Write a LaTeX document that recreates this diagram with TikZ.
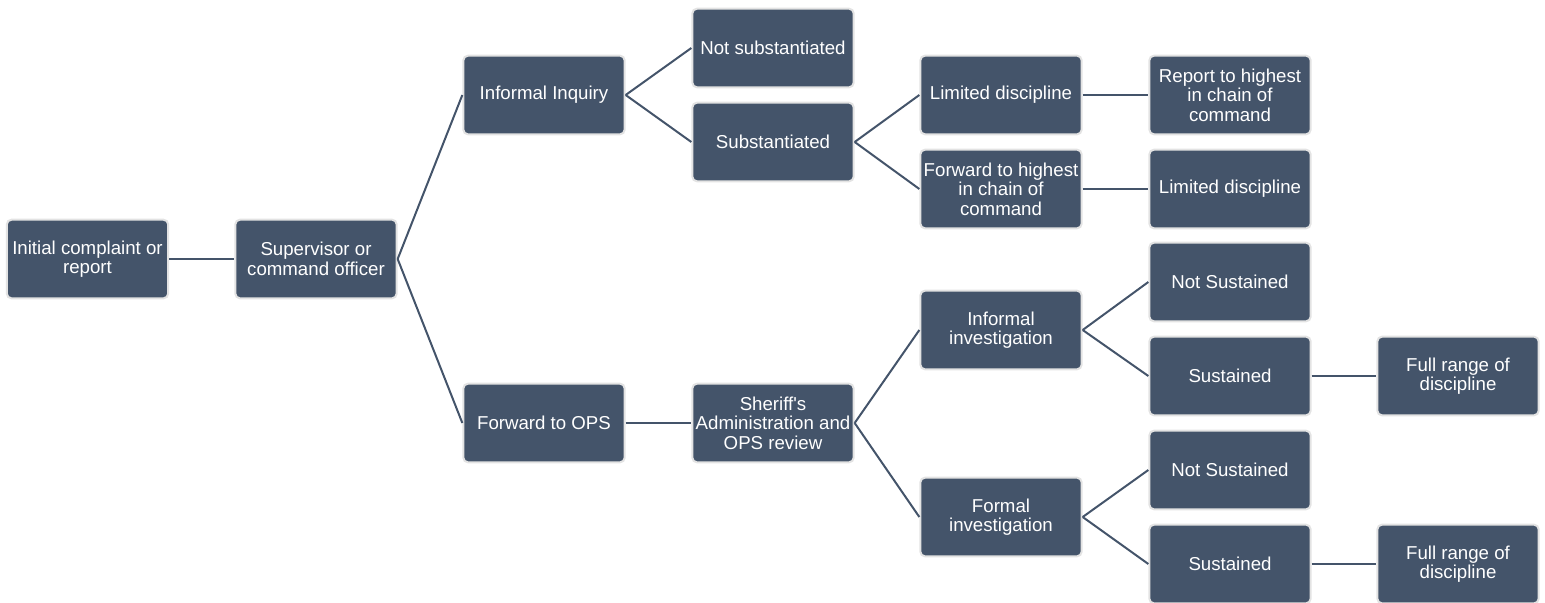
\documentclass[tikz,border=0pt]{standalone}
\usepackage{fontspec}
\setmainfont{Liberation Sans}
\definecolor{slate}{HTML}{44546A}
\definecolor{rim}{HTML}{E3E3E3}

\begin{document}
\begin{tikzpicture}[
	x=0.75pt, y=-0.75pt,
	box/.style={ rectangle, rounded corners=3.5pt, draw=rim, line width=1.5pt, fill=slate, text=white,
		minimum width=121pt, minimum height=59pt, inner sep=1pt, align=center,
		font=\fontsize{14}{14.6}\selectfont },
	link/.style={ draw=slate, line width=1.5pt }
]
\useasboundingbox (0,0) rectangle (1545,603);

\node at (87.5,259) (init) [box] {Initial complaint or\\report};
\node at (316,259) (sup) [box] {Supervisor or\\command officer};

\node at (544,95) (inq) [box] {Informal Inquiry};
\node at (544,423) (ops) [box] {Forward to OPS};

\node at (773,48) (notsub) [box] {Not substantiated};
\node at (773,142) (sub) [box] {Substantiated};
\node at (773,423) (sher) [box] {Sheriff\textquotesingle s\\Administration and\\OPS review};

\node at (1001,95) (lim) [box] {Limited discipline};
\node at (1001,189) (fwd) [box] {Forward to highest\\in chain of\\command};
\node at (1001,330) (infinv) [box] {Informal\\investigation};
\node at (1001,517) (forinv) [box] {Formal\\investigation};

\node at (1230,95) (rep) [box] {Report to highest\\in chain of\\command};
\node at (1230,189) (limb) [box] {Limited discipline};
\node at (1230,282) (ns1) [box] {Not Sustained};
\node at (1230,376) (s1) [box] {Sustained};
\node at (1230,470) (ns2) [box] {Not Sustained};
\node at (1230,564) (s2) [box] {Sustained};

\node at (1458,376) (full1) [box] {Full range of\\discipline};
\node at (1458,564) (full2) [box] {Full range of\\discipline};

\foreach \a/\b in {init/sup, sup/inq, sup/ops, inq/notsub, inq/sub, sub/lim, sub/fwd, lim/rep, fwd/limb,
	ops/sher, sher/infinv, sher/forinv, infinv/ns1, infinv/s1, forinv/ns2, forinv/s2, s1/full1, s2/full2}
	\draw[link] (\a.east) -- (\b.west);

\end{tikzpicture}
\end{document}
